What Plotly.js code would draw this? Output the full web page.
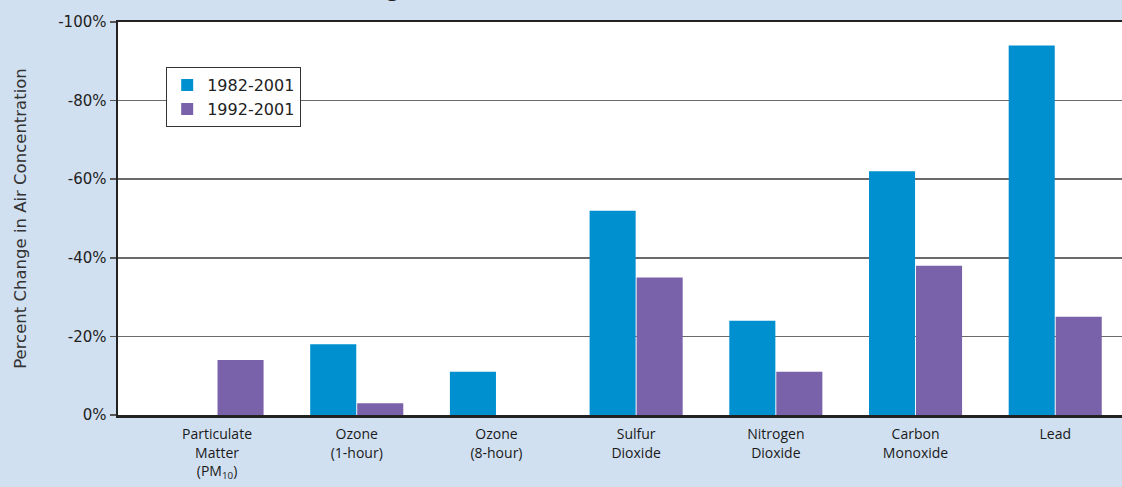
<!DOCTYPE html>
<html>
<head>
<meta charset="utf-8">
<script src="https://cdn.plot.ly/plotly-3.0.1.min.js"></script>
<style>html,body{margin:0;padding:0;background:#d1e0f1;}#chart{width:1122px;height:487px;}</style>
</head>
<body>
<div id="chart"></div>
<script>
const categories = [
  "Particulate<br>Matter<br>(PM<sub>10</sub>)",
  "Ozone<br>(1-hour)",
  "Ozone<br>(8-hour)",
  "Sulfur<br>Dioxide",
  "Nitrogen<br>Dioxide",
  "Carbon<br>Monoxide",
  "Lead"
];
const seriesNames = ["1982-2001", "1992-2001"];
const change1982 = [null, -18, -11, -52, -24, -62, -94];
const change1992 = [-14, -3, null, -35, -11, -38, -25];
const yTickVals = [0, -20, -40, -60, -80, -100];
const yTickText = ["0%", "-20%", "-40%", "-60%", "-80%", "-100%"];
const chartTitle = "Percent Change in National Air Concentrations (%)";

const xIdx = categories.map((c, i) => i);
const font = "Open Sans, Noto Sans, sans-serif";
const wide = "DejaVu Sans, Open Sans, sans-serif";

const traces = [
  {type: "bar", name: seriesNames[0], x: xIdx, y: change1982,
   marker: {color: "#0090d0"}},
  {type: "bar", name: seriesNames[1], x: xIdx, y: change1992,
   marker: {color: "#7a62aa"}}
];

const layout = {
  width: 1122, height: 487,
  paper_bgcolor: "#d1e0f1",
  plot_bgcolor: "#ffffff",
  margin: {l: 118, r: 0, t: 22, b: 72},
  barmode: "group",
  bargap: 0.327,
  bargroupgap: 0.02,
  font: {family: font, size: 14, color: "#222"},
  annotations: [{
    text: chartTitle, showarrow: false,
    xref: "paper", x: 0.385, xanchor: "center",
    yref: "paper", y: 1.045, yanchor: "bottom",
    font: {family: font, size: 22, color: "#222"}
  }],
  showlegend: true,
  legend: {x: 0.048, y: 0.885, xanchor: "left", yanchor: "top",
           bgcolor: "#ffffff", bordercolor: "#333", borderwidth: 1,
           font: {family: wide, size: 16, color: "#222"},
           traceorder: "normal", itemwidth: 30, tracegroupgap: 0},
  xaxis: {
    type: "linear",
    range: [-0.709, 6.478],
    tickvals: xIdx, ticktext: categories,
    showgrid: false, zeroline: false,
    showline: true, linecolor: "#222", linewidth: 2.5, mirror: true,
    ticks: "", ticklabelstandoff: 5,
    tickfont: {family: font, size: 14, color: "#1a1a1a"},
    fixedrange: true
  },
  yaxis: {
    range: [0, -100],
    tickvals: yTickVals, ticktext: yTickText,
    showgrid: true, gridcolor: "#6a6a6a", gridwidth: 1.5,
    zeroline: false,
    showline: true, linecolor: "#222", linewidth: 2.5,
    ticks: "outside", ticklen: 6, tickcolor: "#555", tickwidth: 1.5,
    tickfont: {family: wide, size: 15, color: "#222"},
    title: {text: "Percent Change in Air Concentration",
            font: {family: wide, size: 16.5, color: "#333"}, standoff: 28},
    fixedrange: true
  }
};

Plotly.newPlot("chart", traces, layout, {displayModeBar: false, staticPlot: true});
</script>
</body>
</html>
